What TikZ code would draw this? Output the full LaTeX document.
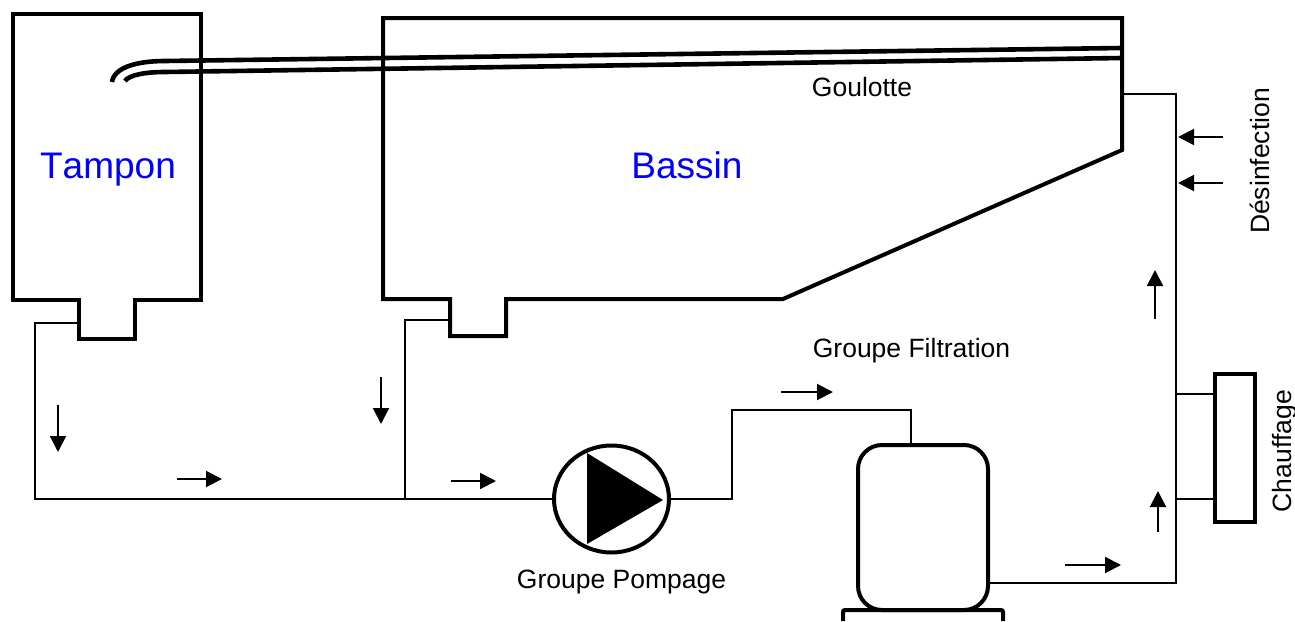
\documentclass[tikz,border=0pt]{standalone}
\usepackage{fontspec}
\setmainfont[Kerning=Off]{Liberation Sans}
\usetikzlibrary{arrows.meta,shapes.geometric}
\definecolor{lblblue}{RGB}{0,0,255}
\tikzset{
  thick wall/.style={draw=black,line width=4pt,line join=miter},
  gutter/.style={draw=black,line width=4.6pt},
  equip/.style={draw=black,line width=4pt,inner sep=0pt,outer sep=0pt},
  pipe/.style={draw=black,line width=2pt,line join=miter},
  flow/.style={draw=black,line width=2pt,-{Triangle[length=16pt,width=16pt]}},
  lbl/.style={font=\fontsize{26.5pt}{30pt}\selectfont,inner sep=0pt,text=black,anchor=base},
  bigl/.style={font=\fontsize{37pt}{40pt}\selectfont,inner sep=0pt,text=lblblue,anchor=base},
}
\begin{document}
\begin{tikzpicture}[x=1pt,y=-1pt]
\useasboundingbox (0,0) rectangle (1295,621);
\fill[white] (0,0) rectangle (1295,621);
% tanks
\draw[thick wall] (79,300) -- (13,300) -- (13,14) -- (201,14) -- (201,300) -- (135,300) -- (135,339) -- (79,339) -- cycle;
\draw[thick wall] (450,299) -- (383,299) -- (383,18) -- (1122,18) -- (1122,150) -- (783,299) -- (506,299) -- (506,336) -- (450,336) -- cycle;
% gutter
\draw[gutter] (112,82) .. controls (114,67) and (138,61) .. (165,61) -- (1122,48);
\draw[gutter] (125,81) .. controls (129,75) and (145,72) .. (165,72) -- (1122,58);
% equipment
\node[equip,ellipse,minimum width=115pt,minimum height=107pt] (pump) at (611.5,499) {};
\fill[black] (587,453) -- (663,500) -- (587,544) -- cycle;
\node[equip,rounded corners=24pt,minimum width=130pt,minimum height=165pt,anchor=north west] (filter) at (858,445) {};
\draw[line width=4pt,rounded corners=2pt] (843,621) -- (843,610) -- (1003,610) -- (1003,621);
\node[equip,minimum width=40pt,minimum height=148pt,anchor=north west] (heater) at (1215,373.5) {};
% pipes
\coordinate (tout) at (79,323);
\coordinate (bout) at (450,320);
\coordinate (tee) at (405,499);
\coordinate (ret) at (1124,94);
\coordinate (hA) at (1176,394);
\coordinate (hB) at (1176,499);
\draw[pipe] (tout) -- (35,323) -- (35,499) -- (pump.west);
\draw[pipe] (bout) -- (405,320) -- (tee);
\draw[pipe] (pump.east) -- (732,499) -- (732,410) -- (911,410) -- (911,445);
\draw[pipe] (988,583) -- (1176,583) -- (1176,94) -- (ret);
\draw[pipe] (hA) -- (1215,394);
\draw[pipe] (hB) -- (1215,499);
% flow arrows
\draw[flow] (58,405) -- (58,452);
\draw[flow] (177,479) -- (222,479);
\draw[flow] (381,377) -- (381,424);
\draw[flow] (451,481) -- (496,481);
\draw[flow] (781,392) -- (833,392);
\draw[flow] (1065,565) -- (1121,565);
\draw[flow] (1158,532) -- (1158,491);
\draw[flow] (1155,319) -- (1155,270);
\draw[flow] (1223,137) -- (1178,137);
\draw[flow] (1223,183) -- (1178,183);
% labels
\node[bigl] (tampon) at (108,178) {Tampon};
\node[bigl] (bassin) at (687,178) {Bassin};
\node[lbl] (goul) at (862,96) {Goulotte};
\node[lbl] (gf) at (911.5,357) {Groupe Filtration};
\node[lbl] (gp) at (621.5,588) {Groupe Pompage};
\node[lbl,rotate=90] (des) at (1269,161) {Désinfection};
\node[lbl,rotate=90] (chauf) at (1291,451) {Chauffage};
\end{tikzpicture}
\end{document}
